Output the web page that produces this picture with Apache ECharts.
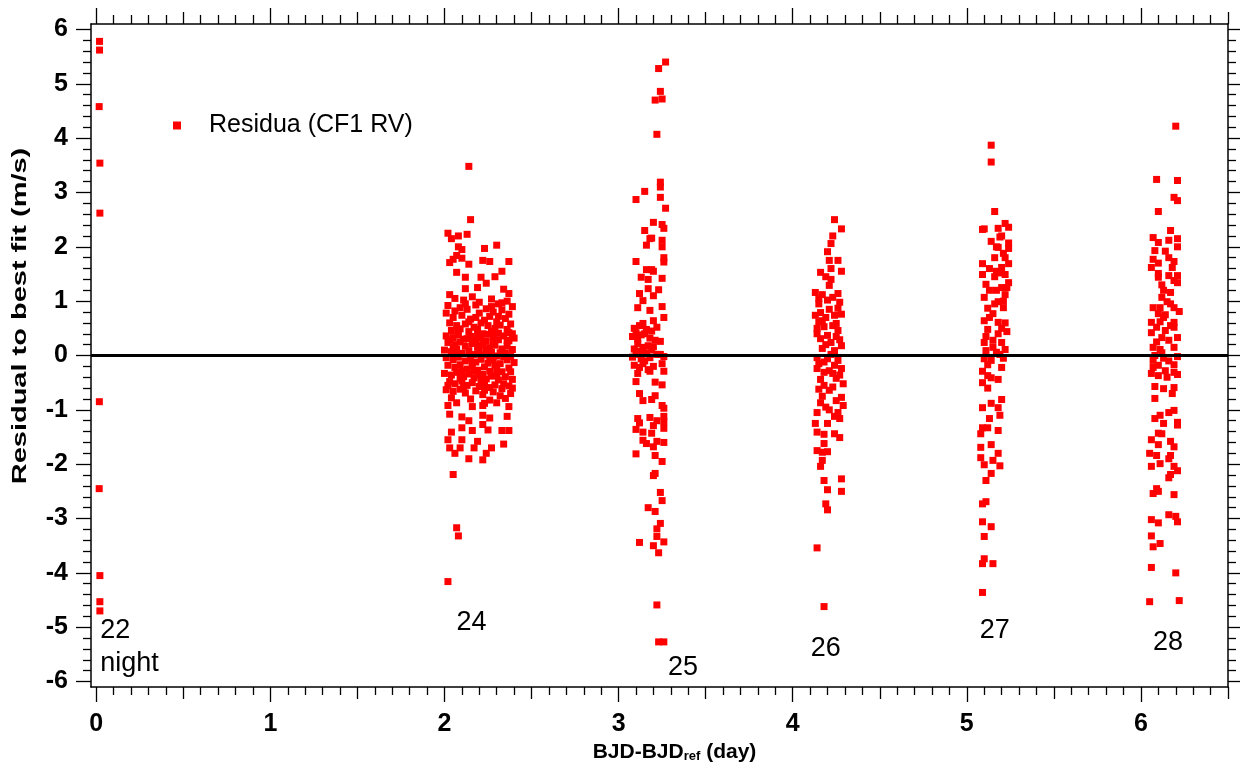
<!DOCTYPE html>
<html>
<head>
<meta charset="utf-8">
<script src="https://cdn.jsdelivr.net/npm/echarts@6/dist/echarts.min.js"></script>
<style>
  html, body { margin: 0; padding: 0; background: #fff; }
  #chart { width: 1244px; height: 769px; }
</style>
</head>
<body>
<div id="chart"></div>
<script>
// residuals per night, [BJD-BJDref (day), residual (m/s)]
const night22 = [
  [0.019, 5.78], [0.019, 5.62], [0.017, 4.58], [0.021, 3.54], [0.021, 2.62],
  [0.018, -0.85], [0.017, -2.45], [0.021, -4.05], [0.021, -4.53], [0.021, -4.70]
];

const night24 = [
  [2.14, 3.48], [2.15, 2.50], [2.02, 2.25], [2.08, 2.20], [2.13, 2.23], [2.04, 2.15],
  [2.23, 1.97], [2.30, 2.03], [2.08, 2.00], [2.10, 1.95], [2.07, 1.84], [2.03, 1.71],
  [2.05, 1.77], [2.10, 1.79], [2.22, 1.75], [2.26, 1.73], [2.37, 1.73], [2.14, 1.68],
  [2.07, 1.53], [2.12, 1.44], [2.21, 1.44], [2.33, 1.55], [2.29, 1.45], [2.24, 1.33],
  [2.12, 1.23], [2.19, 1.25], [2.03, 1.12], [2.34, 1.22], [2.37, 1.14],
  [2.06, 1.05], [2.11, 1.02], [2.16, 1.08], [2.20, 0.98], [2.27, 1.04], [2.31, 0.95],
  [2.36, 1.00], [2.39, 0.90], [2.02, 0.92], [2.09, 0.88], [2.13, 0.85], [2.18, 0.93],
  [2.24, 0.86], [2.28, 0.80], [2.33, 0.84], [2.37, 0.76], [2.01, 0.78], [2.05, 0.70],
  [2.10, 0.74], [2.15, 0.67], [2.20, 0.78], [2.23, 0.65], [2.26, 0.72], [2.30, 0.62],
  [2.35, 0.68], [2.38, 0.58], [2.03, 0.60], [2.07, 0.55], [2.12, 0.58], [2.17, 0.52],
  [2.21, 0.60], [2.25, 0.55], [2.29, 0.50], [2.32, 0.56], [2.36, 0.48], [2.04, 0.46],
  [2.09, 0.49], [2.14, 0.44], [2.19, 0.48], [2.22, 0.40], [2.27, 0.45], [2.31, 0.41],
  [2.39, 0.40],
  [2.01, 0.36], [2.05, 0.33], [2.08, 0.38], [2.11, 0.30], [2.15, 0.35], [2.18, 0.28],
  [2.21, 0.33], [2.24, 0.26], [2.28, 0.34], [2.31, 0.29], [2.34, 0.36], [2.37, 0.27],
  [2.40, 0.32], [2.02, 0.24], [2.06, 0.20], [2.09, 0.25], [2.12, 0.17], [2.16, 0.22],
  [2.19, 0.15], [2.22, 0.21], [2.26, 0.14], [2.29, 0.19], [2.33, 0.12], [2.36, 0.18],
  [2.39, 0.11], [2.00, 0.10], [2.04, 0.07], [2.07, 0.12], [2.10, 0.04], [2.14, 0.09],
  [2.17, 0.02], [2.20, 0.08], [2.23, 0.01], [2.27, 0.06], [2.30, -0.01], [2.35, 0.05],
  [2.38, -0.02], [2.01, -0.04], [2.05, -0.08], [2.08, -0.03], [2.12, -0.10], [2.15, -0.05],
  [2.18, -0.12], [2.21, -0.07], [2.25, -0.14], [2.28, -0.09], [2.32, -0.15], [2.36, -0.08],
  [2.40, -0.13], [2.02, -0.18], [2.06, -0.22], [2.09, -0.17], [2.13, -0.25], [2.16, -0.20],
  [2.19, -0.27], [2.23, -0.21], [2.26, -0.29], [2.30, -0.24], [2.33, -0.30], [2.37, -0.23],
  [2.00, -0.33], [2.04, -0.36], [2.07, -0.31], [2.11, -0.39], [2.14, -0.34], [2.17, -0.41],
  [2.20, -0.36], [2.24, -0.43], [2.27, -0.38], [2.31, -0.45], [2.35, -0.39], [2.39, -0.44],
  [2.03, -0.48], [2.06, -0.52], [2.10, -0.47], [2.13, -0.55], [2.16, -0.50], [2.20, -0.57],
  [2.23, -0.52], [2.26, -0.59], [2.29, -0.54], [2.33, -0.61], [2.37, -0.56], [2.01, -0.63],
  [2.05, -0.66], [2.09, -0.62], [2.12, -0.69], [2.18, -0.65], [2.22, -0.72], [2.28, -0.67],
  [2.32, -0.74], [2.38, -0.70], [2.04, -0.78], [2.15, -0.80], [2.26, -0.82], [2.35, -0.79],
  [2.03, 0.29], [2.07, 0.03], [2.10, -0.28], [2.13, 0.31], [2.16, -0.13], [2.19, 0.40],
  [2.21, -0.47], [2.24, 0.12], [2.26, -0.03], [2.28, 0.24], [2.30, -0.36], [2.32, 0.05],
  [2.34, -0.52], [2.36, 0.28], [2.38, -0.30], [2.02, -0.55], [2.05, 0.15], [2.08, 0.48],
  [2.11, -0.58], [2.14, 0.62], [2.17, -0.29], [2.20, 0.18], [2.23, -0.64], [2.25, 0.39],
  [2.29, -0.18], [2.31, 0.72], [2.34, -0.02], [2.37, 0.42], [2.39, -0.60], [2.06, 0.82],
  [2.09, -0.42], [2.12, 0.95], [2.18, 0.70], [2.22, -0.35], [2.27, 0.90], [2.33, 0.97],
  [2.02, -0.92], [2.07, -0.87], [2.16, -0.94], [2.22, -0.92], [2.23, -0.88], [2.30, -0.87],
  [2.37, -0.94], [2.03, -1.08], [2.10, -1.13], [2.14, -1.20], [2.22, -1.10], [2.26, -1.15],
  [2.36, -1.12], [2.04, -1.41], [2.10, -1.33], [2.16, -1.38], [2.22, -1.27], [2.25, -1.37],
  [2.33, -1.38], [2.37, -1.38], [2.02, -1.55], [2.10, -1.55], [2.19, -1.58], [2.34, -1.63],
  [2.03, -1.70], [2.09, -1.70], [2.17, -1.70], [2.27, -1.70], [2.06, -1.80], [2.24, -1.80],
  [2.14, -1.90], [2.22, -1.92], [2.05, -2.19], [2.07, -3.17], [2.08, -3.32], [2.02, -4.16]
];

const night25 = [
  [3.27, 5.40], [3.23, 5.28], [3.24, 4.86], [3.21, 4.70], [3.25, 4.72], [3.22, 4.07],
  [3.24, 3.19], [3.24, 3.10], [3.15, 3.02], [3.10, 2.87], [3.24, 2.91], [3.27, 2.71],
  [3.20, 2.45], [3.25, 2.41], [3.26, 2.34], [3.15, 2.30], [3.18, 2.15], [3.19, 2.16],
  [3.25, 2.12], [3.16, 2.03], [3.25, 2.00], [3.26, 1.80], [3.26, 1.72], [3.10, 1.73],
  [3.16, 1.58], [3.19, 1.58], [3.20, 1.55], [3.13, 1.44], [3.17, 1.40], [3.25, 1.42],
  [3.17, 1.23], [3.23, 1.21], [3.12, 1.14], [3.20, 1.10], [3.14, 1.01], [3.11, 0.88],
  [3.25, 0.90], [3.18, 0.83], [3.26, 0.70], [3.14, 0.59], [3.20, 0.64], [3.10, 0.42],
  [3.15, 0.40], [3.24, 0.26], [3.11, 0.22], [3.17, 0.18], [3.20, 0.16],
  [3.09, 0.50], [3.12, 0.55], [3.16, 0.48], [3.19, 0.45], [3.22, 0.52], [3.08, 0.35],
  [3.11, 0.30], [3.13, 0.38], [3.18, 0.32], [3.21, 0.28], [3.09, 0.12], [3.12, 0.08],
  [3.14, 0.15], [3.16, 0.05], [3.19, 0.10], [3.22, 0.02], [3.08, -0.03], [3.10, 0.02],
  [3.13, -0.06], [3.15, -0.10], [3.18, -0.04], [3.26, -0.02], [3.09, -0.18], [3.12, -0.22],
  [3.14, -0.15], [3.17, -0.26], [3.20, -0.20], [3.24, 0.02],
  [3.25, -0.15], [3.26, -0.29], [3.11, -0.33], [3.18, -0.29], [3.10, -0.48], [3.21, -0.49],
  [3.25, -0.54], [3.12, -0.70], [3.21, -0.74], [3.14, -0.83], [3.19, -0.81], [3.25, -0.92],
  [3.26, -0.97], [3.26, -1.12], [3.11, -1.16], [3.18, -1.14], [3.22, -1.20], [3.26, -1.22],
  [3.12, -1.24], [3.10, -1.36], [3.20, -1.29], [3.26, -1.34], [3.14, -1.41], [3.19, -1.43],
  [3.14, -1.56], [3.16, -1.62], [3.22, -1.58], [3.26, -1.60], [3.20, -1.68], [3.10, -1.81],
  [3.21, -1.84], [3.25, -1.95], [3.20, -2.21], [3.21, -2.17], [3.24, -2.52], [3.25, -2.67],
  [3.17, -2.80], [3.21, -2.87], [3.24, -3.09], [3.22, -3.19], [3.22, -3.33], [3.12, -3.44],
  [3.26, -3.43], [3.20, -3.50], [3.23, -3.63], [3.22, -4.59], [3.23, -5.27], [3.26, -5.27]
];

const night26 = [
  [4.24, 2.50], [4.28, 2.33], [4.23, 2.20], [4.22, 2.06], [4.20, 1.91], [4.21, 1.75],
  [4.26, 1.75], [4.22, 1.60], [4.16, 1.53], [4.28, 1.55], [4.19, 1.45], [4.22, 1.40],
  [4.21, 1.29], [4.13, 1.16], [4.15, 1.05], [4.17, 1.12], [4.23, 1.07], [4.26, 1.14],
  [4.27, 0.98], [4.21, 0.85], [4.26, 0.87], [4.13, 0.74], [4.16, 0.79], [4.24, 0.74],
  [4.28, 0.76], [4.17, 0.64], [4.25, 0.59], [4.14, 0.50], [4.18, 0.53], [4.26, 0.46],
  [4.14, 0.40], [4.20, 0.37], [4.16, 0.31], [4.27, 0.29], [4.22, 0.24], [4.28, 0.18],
  [4.17, 0.13], [4.24, 0.09], [4.14, -0.04], [4.20, -0.06], [4.26, -0.09], [4.15, -0.15],
  [4.24, -0.18], [4.14, -0.24], [4.28, -0.24], [4.18, -0.31], [4.23, -0.33], [4.16, -0.44],
  [4.25, -0.42], [4.29, -0.52], [4.18, -0.55], [4.21, -0.64], [4.17, -0.75], [4.28, -0.77],
  [4.25, -0.83], [4.16, -0.87], [4.29, -0.92], [4.14, -1.05], [4.21, -1.00], [4.26, -1.05],
  [4.27, -1.16], [4.20, -1.25], [4.13, -1.25], [4.14, -1.41], [4.18, -1.45], [4.24, -1.44],
  [4.27, -1.51], [4.18, -1.62], [4.14, -1.75], [4.17, -1.78], [4.20, -1.77], [4.17, -1.93],
  [4.16, -2.04], [4.18, -2.30], [4.28, -2.27], [4.20, -2.47], [4.28, -2.50], [4.19, -2.73],
  [4.20, -2.84], [4.14, -3.54], [4.18, -4.62],
  [4.15, 0.95], [4.19, 0.70], [4.23, 0.55], [4.19, 0.20], [4.22, 0.02], [4.18, -0.12],
  [4.21, -0.28], [4.27, -0.36], [4.15, -0.62], [4.23, -0.58], [4.19, -0.95], [4.24, -1.12],
  [4.15, 0.62], [4.25, 0.35], [4.20, 1.02]
];

const night27 = [
  [5.14, 3.87], [5.14, 3.56], [5.16, 2.65], [5.22, 2.43], [5.09, 2.32], [5.10, 2.33],
  [5.18, 2.34], [5.24, 2.36], [5.19, 2.18], [5.14, 2.10], [5.24, 2.07], [5.18, 1.99],
  [5.24, 1.97], [5.21, 1.88], [5.16, 1.80], [5.09, 1.69], [5.24, 1.69], [5.20, 1.62],
  [5.17, 1.55], [5.09, 1.49], [5.22, 1.49], [5.16, 1.45], [5.24, 1.34], [5.11, 1.31],
  [5.20, 1.25], [5.17, 1.20], [5.10, 1.07], [5.22, 1.12], [5.18, 0.99], [5.12, 0.87],
  [5.21, 0.88], [5.15, 0.77], [5.10, 0.64], [5.18, 0.61], [5.22, 0.60], [5.12, 0.48],
  [5.23, 0.44], [5.18, 0.40], [5.10, 0.24], [5.15, 0.28], [5.20, 0.24], [5.22, 0.11],
  [5.11, 0.09], [5.17, 0.06], [5.10, -0.06], [5.14, -0.09], [5.20, -0.22], [5.12, -0.17],
  [5.09, -0.29], [5.12, -0.37], [5.14, -0.41], [5.18, -0.44], [5.09, -0.50], [5.12, -0.60],
  [5.20, -0.81], [5.14, -0.88], [5.18, -0.96], [5.09, -0.96], [5.19, -1.10], [5.13, -1.16],
  [5.12, -1.33], [5.09, -1.33], [5.18, -1.38], [5.08, -1.44], [5.14, -1.64], [5.18, -1.80],
  [5.08, -1.69], [5.08, -1.88], [5.15, -1.93], [5.10, -2.01], [5.19, -2.03], [5.14, -2.17],
  [5.11, -2.30], [5.11, -2.69], [5.09, -2.73], [5.09, -3.06], [5.14, -3.15], [5.10, -3.33],
  [5.10, -3.74], [5.09, -3.83], [5.15, -3.83], [5.09, -4.36],
  [5.20, 2.20], [5.22, 1.80], [5.19, 1.52], [5.13, 1.20], [5.21, 1.00], [5.16, 0.95],
  [5.13, 0.70], [5.20, 0.50], [5.15, 0.15], [5.19, 0.02], [5.13, 1.60], [5.23, 1.25],
  [5.17, 2.00], [5.11, 0.35], [5.21, -0.05]
];

const night28 = [
  [6.20, 4.22], [6.09, 3.24], [6.21, 3.22], [6.19, 2.91], [6.21, 2.85], [6.10, 2.65],
  [6.17, 2.30], [6.07, 2.17], [6.21, 2.15], [6.10, 2.08], [6.16, 2.12], [6.21, 2.00],
  [6.08, 1.93], [6.14, 1.92], [6.07, 1.77], [6.16, 1.80], [6.19, 1.73], [6.10, 1.70],
  [6.06, 1.62], [6.18, 1.62], [6.10, 1.51], [6.16, 1.47], [6.21, 1.47], [6.19, 1.38],
  [6.10, 1.44], [6.21, 1.34], [6.13, 1.20], [6.17, 1.16], [6.12, 1.07], [6.15, 0.99],
  [6.07, 0.88], [6.11, 0.88], [6.19, 0.88], [6.22, 0.81], [6.10, 0.77], [6.13, 0.70],
  [6.06, 0.61], [6.11, 0.62], [6.19, 0.61], [6.09, 0.52], [6.19, 0.52], [6.06, 0.42],
  [6.14, 0.46], [6.12, 0.33], [6.21, 0.33], [6.16, 0.28], [6.07, 0.15], [6.19, 0.15],
  [6.21, -0.02], [6.11, 0.11], [6.07, -0.09], [6.13, -0.05], [6.19, -0.17], [6.10, -0.18],
  [6.07, -0.22], [6.14, -0.28], [6.06, -0.33], [6.10, -0.37], [6.19, -0.31], [6.21, -0.35],
  [6.08, -0.57], [6.13, -0.61], [6.19, -0.59], [6.08, -0.79], [6.18, -0.70], [6.08, -1.16],
  [6.11, -1.10], [6.16, -1.05], [6.19, -1.01], [6.13, -1.25], [6.21, -1.23], [6.21, -1.28],
  [6.10, -1.43], [6.12, -1.44], [6.06, -1.55], [6.10, -1.64], [6.17, -1.58], [6.19, -1.68],
  [6.05, -1.80], [6.09, -1.84], [6.17, -1.84], [6.16, -1.90], [6.11, -1.99], [6.06, -2.04],
  [6.19, -2.04], [6.21, -2.12], [6.17, -2.19], [6.16, -2.25], [6.09, -2.45], [6.10, -2.50],
  [6.07, -2.54], [6.19, -2.56], [6.16, -2.93], [6.20, -2.96], [6.06, -3.02], [6.21, -3.06],
  [6.10, -3.08], [6.06, -3.32], [6.11, -3.46], [6.07, -3.52], [6.06, -3.90], [6.20, -4.00],
  [6.05, -4.53], [6.22, -4.51],
  [6.12, 0.05], [6.16, -0.10], [6.09, 0.25], [6.17, 0.55], [6.14, 0.75], [6.12, 1.30],
  [6.08, 0.00], [6.15, -0.40], [6.17, 0.95]
];

// night labels: [x, y, text] (text centre in data units)
const nightLabels = [
  [2.155, -4.92, '24'],
  [3.37, -5.75, '25'],
  [4.19, -5.40, '26'],
  [5.16, -5.06, '27'],
  [6.155, -5.29, '28']
];
const firstNightLabel = [0.023, -5.36, '22\nnight'];

const xTickLabels = [0, 1, 2, 3, 4, 5, 6];
const yTickLabels = [-6, -5, -4, -3, -2, -1, 0, 1, 2, 3, 4, 5, 6];

const X_MIN = -0.03, X_MAX = 6.5;
const Y_MIN = -6.1, Y_MAX = 6.1;

// tick positions for the minor / half-unit ticks
const xMinor = [], xHalf = [], yMinor = [];
for (let i = 0; i <= 65; i++) {
  if (i % 5 !== 0) xMinor.push(+(i / 10).toFixed(1));
  else if (i % 10 === 5) xHalf.push(+(i / 10).toFixed(1));
}
for (let i = -30; i <= 30; i++) {
  if (i % 5 !== 0) yMinor.push(+(i / 5).toFixed(1));
}

const FONT = 'Liberation Sans, Arial, Helvetica, sans-serif';
const NARROW = '"Liberation Sans Narrow", "Liberation Sans", Arial, sans-serif';
const black = '#000';

function xAx(pos, ticks, len, opts) {
  return Object.assign({
    type: 'value', position: pos, min: X_MIN, max: X_MAX,
    axisLine: { show: false, onZero: false },
    axisTick: { show: true, customValues: ticks, length: len, lineStyle: { color: black, width: 1.3 } },
    axisLabel: { show: false },
    splitLine: { show: false }
  }, opts || {});
}
function yAx(pos, ticks, len, opts) {
  return Object.assign({
    type: 'value', position: pos, min: Y_MIN, max: Y_MAX,
    axisLine: { show: false, onZero: false },
    axisTick: { show: true, customValues: ticks, length: len, lineStyle: { color: black, width: 1.3 } },
    axisLabel: { show: false },
    splitLine: { show: false }
  }, opts || {});
}
const frameLine = { show: true, onZero: false, lineStyle: { color: black, width: 1.5 } };

const chart = echarts.init(document.getElementById('chart'), null, { renderer: 'canvas' });

const option = {
  animation: false,
  backgroundColor: '#fff',
  grid: { left: 91, right: 16, top: 24, bottom: 82, containLabel: false },
  legend: {
    data: ['Residua (CF1 RV)'],
    left: 168, top: 108,
    icon: 'rect', itemWidth: 8, itemHeight: 8,
    formatter: '{t|{name}}',
    textStyle: {
      rich: { t: { fontFamily: FONT, fontSize: 25, color: black, padding: [0, 0, 0, 23] } }
    }
  },
  graphic: [{
    type: 'text',
    x: 20, y: 316,
    rotation: Math.PI / 2,
    scaleX: 1.38,
    style: {
      text: 'Residual to best fit (m/s)',
      fontFamily: FONT, fontWeight: 'bold', fontSize: 21, fill: black,
      align: 'center', verticalAlign: 'middle'
    }
  }],
  xAxis: [
    xAx('bottom', xTickLabels, 15, {
      axisLine: frameLine,
      axisLabel: {
        show: true, customValues: xTickLabels, margin: 25,
        fontFamily: NARROW, fontWeight: 'bold', fontSize: 25, color: black
      },
      name: 'BJD-BJD{sub|ref} (day)',
      nameLocation: 'middle', nameGap: 51,
      nameTextStyle: {
        fontFamily: FONT, fontWeight: 'bold', fontSize: 21, color: black,
        padding: [0, 0, 0, 30],
        rich: { sub: { fontFamily: FONT, fontWeight: 'bold', fontSize: 13, color: black, verticalAlign: 'bottom', padding: [8, 0, 0, 0] } }
      }
    }),
    xAx('bottom', xMinor, 8),
    xAx('bottom', xHalf, 12),
    xAx('top', xTickLabels, 16, { axisLine: frameLine }),
    xAx('top', xMinor, 9),
    xAx('top', xHalf, 12)
  ],
  yAxis: [
    yAx('left', yTickLabels, 15, {
      axisLine: frameLine,
      axisLabel: {
        show: true, customValues: yTickLabels, margin: 23,
        fontFamily: NARROW, fontWeight: 'bold', fontSize: 25, color: black
      }
    }),
    yAx('left', yMinor, 8),
    yAx('right', yTickLabels, 12, { axisLine: frameLine }),
    yAx('right', yMinor, 8)
  ],
  series: [
    {
      name: 'Residua (CF1 RV)',
      type: 'scatter',
      symbol: 'rect',
      symbolSize: 7,
      itemStyle: { color: '#ff0000', opacity: 1 },
      data: [].concat(night22, night24, night25, night26, night27, night28),
      markLine: {
        silent: true, symbol: 'none', label: { show: false },
        lineStyle: { color: black, width: 3, type: 'solid' },
        data: [{ yAxis: 0 }]
      },
      z: 3
    },
    {
      name: 'labels',
      type: 'scatter',
      symbolSize: 0,
      silent: true,
      itemStyle: { opacity: 1 },
      data: nightLabels.map(d => ({ value: [d[0], d[1]], name: d[2] })),
      label: {
        show: true, position: 'inside', formatter: '{b}',
        fontFamily: FONT, fontSize: 27, color: black, opacity: 1
      },
      z: 4
    },
    {
      name: 'labels22',
      type: 'scatter',
      symbolSize: 0,
      silent: true,
      itemStyle: { opacity: 1 },
      data: [{ value: [firstNightLabel[0], firstNightLabel[1]], name: firstNightLabel[2] }],
      label: {
        show: true, position: 'inside', align: 'left', formatter: '{b}',
        fontFamily: FONT, fontSize: 27, lineHeight: 33, color: black, opacity: 1
      },
      z: 4
    }
  ]
};

chart.setOption(option);
</script>
</body>
</html>
